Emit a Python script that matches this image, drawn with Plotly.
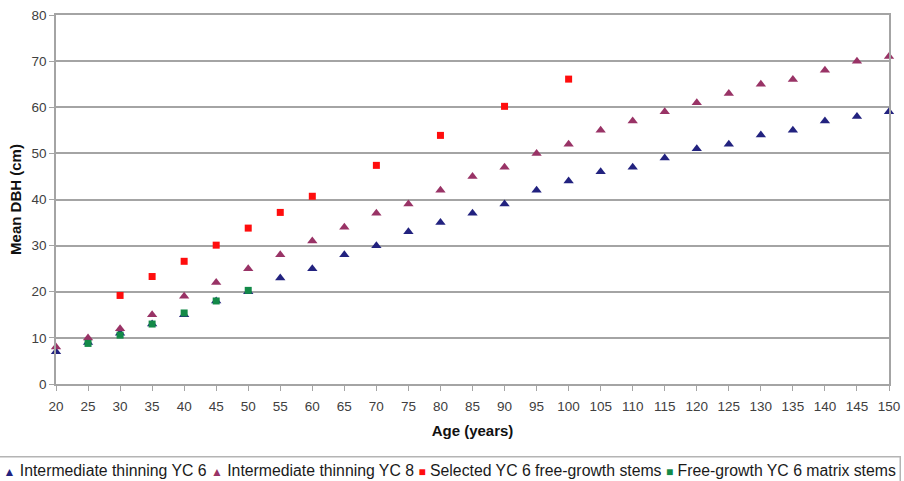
import plotly.graph_objects as go

# Mean DBH by stand age for each thinning / growth regime
ages_thin = [20, 25, 30, 35, 40, 45, 50, 55, 60, 65, 70, 75, 80, 85, 90,
             95, 100, 105, 110, 115, 120, 125, 130, 135, 140, 145, 150]
dbh_yc6 = [7, 9, 11, 13, 15, 18, 20, 23, 25, 28, 30, 33, 35, 37, 39,
           42, 44, 46, 47, 49, 51, 52, 54, 55, 57, 58, 59]
dbh_yc8 = [8, 10, 12, 15, 19, 22, 25, 28, 31, 34, 37, 39, 42, 45, 47,
           50, 52, 55, 57, 59, 61, 63, 65, 66, 68, 70, 71]

ages_selected = [30, 35, 40, 45, 50, 55, 60, 70, 80, 90, 100]
dbh_selected = [19.2, 23.3, 26.6, 30.1, 33.8, 37.2, 40.7, 47.4, 53.9, 60.2, 66.1]

ages_matrix = [25, 30, 35, 40, 45, 50]
dbh_matrix = [8.8, 10.6, 13.0, 15.4, 18.0, 20.3]

x_ticks = list(range(20, 151, 5))

series = [
    ("Intermediate thinning YC 6", ages_thin, dbh_yc6, "triangle-up", "#22227f", 9),
    ("Intermediate thinning YC 8", ages_thin, dbh_yc8, "triangle-up", "#993366", 9),
    ("Selected YC 6 free-growth stems", ages_selected, dbh_selected, "square", "#ff0d0d", 7),
    ("Free-growth YC 6 matrix stems", ages_matrix, dbh_matrix, "square", "#138a48", 7),
]
legend_glyph = {"triangle-up": "▲", "square": "■"}

fig = go.Figure()
for name, xs, ys, sym, col, sz in series:
    fig.add_trace(go.Scatter(
        x=xs, y=ys, mode="markers", name=name, cliponaxis=False,
        marker=dict(symbol=sym, color=col, size=sz, line=dict(width=0)),
    ))

# single-row boxed key under the axis title
key_parts = [
    f"<span style='color:{col};font-size:12px'>{legend_glyph[sym]}</span> {name}"
    for name, _, _, sym, col, _ in series
]
fig.add_annotation(
    text=" ".join(key_parts), xref="paper", yref="paper",
    x=0.4725, y=-0.196, xanchor="center", yanchor="top", showarrow=False,
    font=dict(size=15.8, color="#1a1a1a"),
    bordercolor="#b4b4b4", borderwidth=1.5, borderpad=4, bgcolor="white",
)

grid = "#a4a4a4"
fig.update_layout(
    width=904, height=481,
    margin=dict(l=56, r=15, t=15, b=97, autoexpand=False),
    paper_bgcolor="white", plot_bgcolor="white",
    font=dict(family="Liberation Sans, Arial, sans-serif", size=13, color="#404040"),
    showlegend=False,
)
fig.update_xaxes(
    range=[20, 150], tickmode="array", tickvals=x_ticks, ticktext=[str(v) for v in x_ticks],
    showgrid=False, zeroline=False,
    showline=True, linecolor=grid, linewidth=1.6, mirror=True,
    ticks="outside", ticklen=5, tickcolor=grid, tickwidth=1,
    ticklabelstandoff=4,
    tickfont=dict(size=13.5, color="#404040"),
    title=dict(text="<b>Age (years)</b>", font=dict(size=15, color="#111111"), standoff=12),
)
fig.update_yaxes(
    range=[0, 80], dtick=10, tick0=0,
    showgrid=True, gridcolor=grid, gridwidth=1.6, zeroline=False,
    showline=True, linecolor=grid, linewidth=1.6, mirror=True,
    ticks="outside", ticklen=5, tickcolor=grid, tickwidth=1,
    tickfont=dict(size=13.5, color="#404040"),
    title=dict(text="<b>Mean DBH (cm)</b>", font=dict(size=15, color="#111111"), standoff=6),
)

fig.write_html("out.html")
